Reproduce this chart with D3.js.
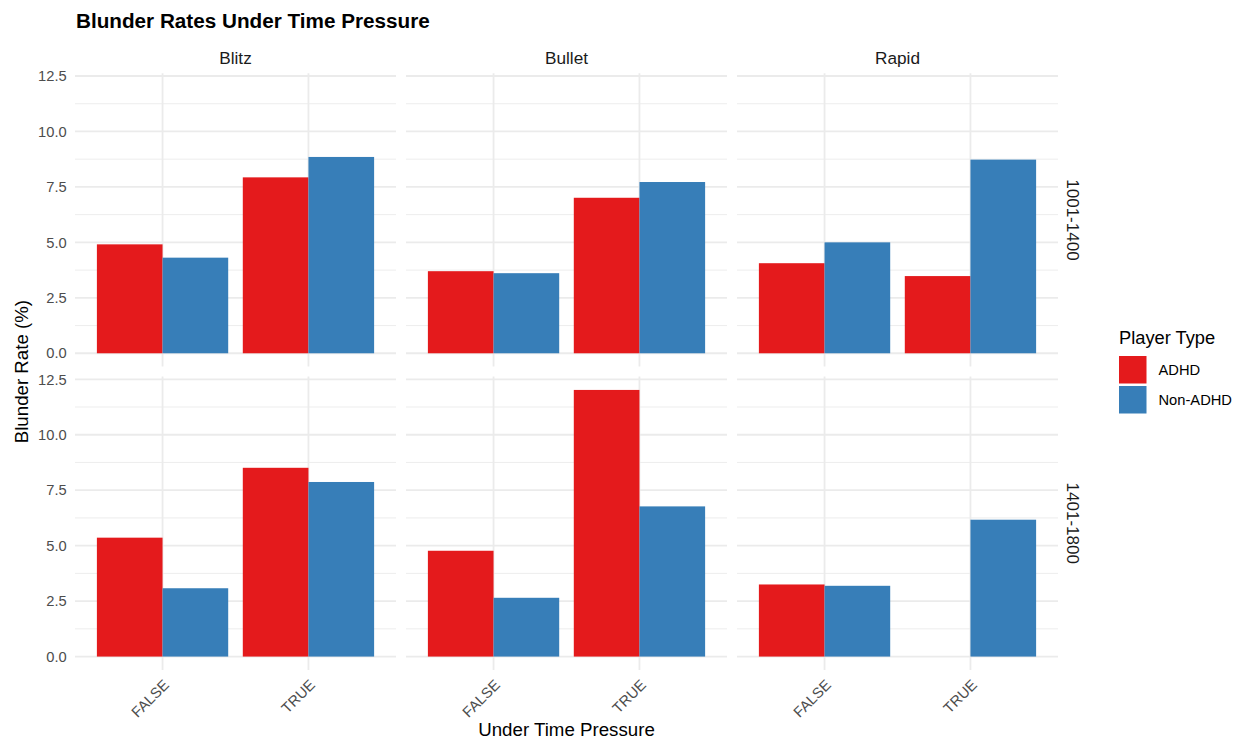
<!DOCTYPE html>
<html>
<head>
<meta charset="utf-8">
<script src="https://cdn.jsdelivr.net/npm/d3@7"></script>
<style>
  html, body { margin: 0; padding: 0; background: #fff; }
  svg { display: block; font-family: "Liberation Sans", Arial, Helvetica, sans-serif; }
</style>
</head>
<body>
<svg id="chart" width="1238" height="740"></svg>
<script>
// Facets, categories and legend entries
const speeds = ["Blitz", "Bullet", "Rapid"];
const ratingBands = ["1001-1400", "1401-1800"];
const pressureLevels = ["FALSE", "TRUE"];
const playerTypes = ["ADHD", "Non-ADHD"];
const yTicks = [0, 2.5, 5, 7.5, 10, 12.5];
const yMinorTicks = [1.25, 3.75, 6.25, 8.75, 11.25];

// Blunder rate (%) per speed, as [FALSE, TRUE] under time pressure
const adhd1001 = [[4.91, 7.93], [3.70, 7.01], [4.06, 3.48]];
const nonAdhd1001 = [[4.31, 8.85], [3.61, 7.72], [5.00, 8.73]];
const adhd1401 = [[5.36, 8.51], [4.77, 12.02], [3.25, null]];
const nonAdhd1401 = [[3.08, 7.87], [2.65, 6.77], [3.19, 6.17]];

const colors = { "ADHD": "#E41A1C", "Non-ADHD": "#377EB8" };

// Long-form rows built from the arrays above
const seriesByBand = {
  "1001-1400": { "ADHD": adhd1001, "Non-ADHD": nonAdhd1001 },
  "1401-1800": { "ADHD": adhd1401, "Non-ADHD": nonAdhd1401 }
};
const rows = [];
ratingBands.forEach(band => {
  speeds.forEach((speed, si) => {
    pressureLevels.forEach((p, pi) => {
      playerTypes.forEach(pt => {
        const v = seriesByBand[band][pt][si][pi];
        if (v != null) rows.push({ band, speed, pressure: p, type: pt, value: v });
      });
    });
  });
});

const svg = d3.select("#chart");
const FONT = "Liberation Sans, Arial, Helvetica, sans-serif";

// Panel geometry
const panelLeft = 75, panelW = 321, panelGapX = 10;
const panelTop = 73.3, panelH = 293.3, panelGapY = 10;
const panelX = i => panelLeft + i * (panelW + panelGapX);
const panelY = j => panelTop + j * (panelH + panelGapY);

// Shared scales (fixed across facets)
const maxVal = d3.max(rows, d => d.value);
const pad = maxVal * 0.05;
const y = d3.scaleLinear().domain([-pad, maxVal + pad]).range([panelH, 0]);
const x0 = d3.scaleBand().domain(pressureLevels).range([0, panelW])
  .paddingInner(0.1).paddingOuter(0.15);
const x1 = d3.scaleBand().domain(playerTypes).range([0, x0.bandwidth()]).padding(0);

const gridColor = "#EBEBEB";

ratingBands.forEach((band, j) => {
  speeds.forEach((speed, i) => {
    const g = svg.append("g").attr("transform", `translate(${panelX(i)},${panelY(j)})`);

    // grid
    g.selectAll("line.minor").data(yMinorTicks).join("line")
      .attr("x1", 0).attr("x2", panelW)
      .attr("y1", d => y(d)).attr("y2", d => y(d))
      .attr("stroke", gridColor).attr("stroke-width", 0.9);
    g.selectAll("line.major").data(yTicks).join("line")
      .attr("x1", 0).attr("x2", panelW)
      .attr("y1", d => y(d)).attr("y2", d => y(d))
      .attr("stroke", gridColor).attr("stroke-width", 1.8);
    g.selectAll("line.vmajor").data(pressureLevels).join("line")
      .attr("x1", d => x0(d) + x0.bandwidth() / 2).attr("x2", d => x0(d) + x0.bandwidth() / 2)
      .attr("y1", 0).attr("y2", panelH)
      .attr("stroke", gridColor).attr("stroke-width", 1.8);

    // bars
    const data = rows.filter(r => r.band === band && r.speed === speed);
    g.selectAll("rect.bar").data(data).join("rect")
      .attr("x", d => x0(d.pressure) + x1(d.type))
      .attr("width", x1.bandwidth())
      .attr("y", d => y(Math.max(0, d.value)))
      .attr("height", d => Math.abs(y(d.value) - y(0)))
      .attr("fill", d => colors[d.type]);

    // column strip
    if (j === 0) {
      svg.append("text")
        .attr("x", panelX(i) + panelW / 2).attr("y", panelTop - 9.3)
        .attr("text-anchor", "middle").attr("font-size", 17.2).attr("fill", "#1A1A1A")
        .text(speed);
    }
    // row strip
    if (i === speeds.length - 1) {
      const cx = panelX(i) + panelW + 9, cy = panelY(j) + panelH / 2;
      svg.append("text")
        .attr("transform", `translate(${cx},${cy}) rotate(90)`)
        .attr("text-anchor", "middle")
        .attr("font-size", 17).attr("fill", "#1A1A1A")
        .text(band);
    }
    // y axis labels
    if (i === 0) {
      const ax = g.append("g").attr("transform", "translate(-4,0)")
        .call(d3.axisLeft(y).tickValues(yTicks).tickFormat(d3.format(".1f")).tickSize(0).tickPadding(4.3));
      ax.select(".domain").remove();
      ax.selectAll("text").attr("font-size", 14.7).attr("fill", "#4D4D4D")
        .attr("font-family", FONT);
    }
    // x axis labels, rotated 45°
    if (j === ratingBands.length - 1) {
      const ax = g.append("g").attr("transform", `translate(0,${panelH})`)
        .call(d3.axisBottom(x0).tickSize(0));
      ax.select(".domain").remove();
      ax.selectAll("text")
        .attr("font-size", 14.7).attr("fill", "#4D4D4D")
        .attr("font-family", FONT)
        .attr("text-anchor", "end")
        .attr("x", 0).attr("y", 0).attr("dy", 0)
        .attr("transform", "translate(7.4,16) rotate(-45)");
    }
  });
});

// Titles
svg.append("text")
  .attr("x", 76).attr("y", 28)
  .attr("font-size", 20.7).attr("font-weight", "bold").attr("fill", "#000")
  .text("Blunder Rates Under Time Pressure");

svg.append("text")
  .attr("x", panelLeft + (3 * panelW + 2 * panelGapX) / 2).attr("y", 736)
  .attr("text-anchor", "middle").attr("font-size", 18.7).attr("fill", "#000")
  .text("Under Time Pressure");

svg.append("text")
  .attr("transform", `translate(28,${panelTop + (2 * panelH + panelGapY) / 2}) rotate(-90)`)
  .attr("text-anchor", "middle").attr("font-size", 18.7).attr("fill", "#000")
  .text("Blunder Rate (%)");

// Legend
const lg = svg.append("g").attr("transform", "translate(1119,0)");
lg.append("text").attr("x", 0).attr("y", 344)
  .attr("font-size", 18.3).attr("fill", "#000").text("Player Type");
const keys = lg.selectAll("g.key").data(playerTypes).join("g")
  .attr("transform", (d, k) => `translate(0,${356 + k * 30})`);
keys.append("rect").attr("width", 27.5).attr("height", 27.5)
  .attr("fill", d => colors[d]);
keys.append("text").attr("x", 39.5).attr("y", 14).attr("dy", "0.35em")
  .attr("font-size", 14.7).attr("fill", "#000").text(d => d);
</script>
</body>
</html>
